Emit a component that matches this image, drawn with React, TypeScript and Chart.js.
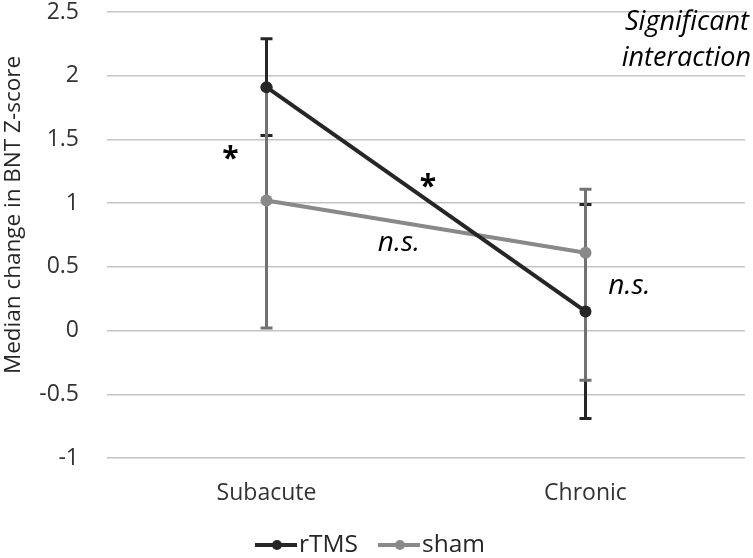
import React, { useEffect, useRef } from "react";
import { Chart, registerables } from "chart.js";

Chart.register(...registerables);

const categories = ["Subacute", "Chronic"];
const seriesNames = ["rTMS", "sham"];
const rTMSMedian = [1.91, 0.15];
const rTMSLow = [1.53, -0.69];
const rTMSHigh = [2.29, 0.99];
const shamMedian = [1.02, 0.61];
const shamLow = [0.02, -0.39];
const shamHigh = [1.91, 1.11];
const yMin = -1;
const yMax = 2.5;
const yStep = 0.5;
const yTitle = "Median change in BNT Z-score";
const noteLines = ["Significant", "interaction"];

const FONT = "'Open Sans', sans-serif";
const DARK = "#262626";
const GRAY = "#898989";
const GRAY_ERR = "#727272";
const PLOT_TOP = 12;
const PLOT_BOTTOM = 458;

const errorBarsPlugin = {
  id: "errorBars",
  afterLayout(chart: any) {
    const ca = chart.chartArea;
    const xs = chart.scales.x;
    const ys = chart.scales.y;
    ca.top = PLOT_TOP;
    ca.bottom = PLOT_BOTTOM;
    ca.height = PLOT_BOTTOM - PLOT_TOP;
    ys.top = PLOT_TOP;
    ys.bottom = PLOT_BOTTOM;
    ys.height = PLOT_BOTTOM - PLOT_TOP;
    ys.configure();
    const xh = xs.height;
    xs.top = PLOT_BOTTOM;
    xs.bottom = PLOT_BOTTOM + xh;
    xs.configure();
  },
  beforeDatasetsDraw(chart: any) {
    const ctx = chart.ctx;
    const xs = chart.scales.x;
    const ys = chart.scales.y;
    const sets = [
      { low: rTMSLow, high: rTMSHigh, color: DARK },
      { low: shamLow, high: shamHigh, color: GRAY_ERR },
    ];
    ctx.save();
    sets.forEach((s) => {
      ctx.strokeStyle = s.color;
      ctx.lineWidth = 3;
      s.low.forEach((lo, i) => {
        const x = xs.getPixelForValue(i);
        const y1 = ys.getPixelForValue(lo);
        const y2 = ys.getPixelForValue(s.high[i]);
        ctx.beginPath();
        ctx.moveTo(x, y1);
        ctx.lineTo(x, y2);
        ctx.moveTo(x - 6, y1);
        ctx.lineTo(x + 6, y1);
        ctx.moveTo(x - 6, y2);
        ctx.lineTo(x + 6, y2);
        ctx.stroke();
      });
    });
    ctx.restore();
  },
  afterDraw(chart: any) {
    const ctx = chart.ctx;
    const xs = chart.scales.x;
    const ys = chart.scales.y;
    ctx.save();
    // y title
    ctx.fillStyle = "#262626";
    ctx.font = `22.5px ${FONT}`;
    ctx.textAlign = "center";
    ctx.textBaseline = "middle";
    ctx.translate(14, 215);
    ctx.rotate(-Math.PI / 2);
    ctx.fillText(yTitle, 0, 0);
    ctx.setTransform(1, 0, 0, 1, 0, 0);

    // annotations
    ctx.fillStyle = "#000";
    ctx.textAlign = "center";
    ctx.textBaseline = "middle";
    const x0 = xs.getPixelForValue(0);
    const x1 = xs.getPixelForValue(1);
    ctx.font = `bold 30px ${FONT}`;
    ctx.fillText("*", x0 - 36, ys.getPixelForValue(1.34));
    ctx.fillText("*", 428, ys.getPixelForValue(1.12));
    ctx.font = `italic 28px ${FONT}`;
    ctx.fillText("n.s.", 399, ys.getPixelForValue(0.69));
    ctx.fillText("n.s.", x1 + 44, ys.getPixelForValue(0.35));
    ctx.textAlign = "right";
    ctx.font = `italic 27px ${FONT}`;
    ctx.fillText(noteLines[0], 749, 22);
    ctx.fillText(noteLines[1], 751, 58);

    // legend
    const colors = [DARK, GRAY];
    let lx = 255;
    const ly = 545;
    ctx.font = `24.5px ${FONT}`;
    ctx.textAlign = "left";
    ctx.textBaseline = "middle";
    seriesNames.forEach((name, i) => {
      ctx.strokeStyle = colors[i];
      ctx.fillStyle = colors[i];
      ctx.lineWidth = 4;
      ctx.beginPath();
      ctx.moveTo(lx, ly);
      ctx.lineTo(lx + 42, ly);
      ctx.stroke();
      ctx.beginPath();
      ctx.arc(lx + 22, ly, 5, 0, Math.PI * 2);
      ctx.fill();
      ctx.fillStyle = "#262626";
      ctx.fillText(name, lx + 44, ly);
      lx += 44 + ctx.measureText(name).width + 20;
    });
    ctx.restore();
  },
};

export default function App() {
  const ref = useRef<HTMLCanvasElement | null>(null);
  useEffect(() => {
    if (!ref.current) return;
    const chart = new Chart(ref.current, {
      type: "line",
      data: {
        labels: categories,
        datasets: [
          {
            label: seriesNames[0],
            data: rTMSMedian,
            borderColor: DARK,
            backgroundColor: DARK,
            borderWidth: 4,
            pointRadius: 6,
            pointBackgroundColor: DARK,
            pointBorderWidth: 0,
          },
          {
            label: seriesNames[1],
            data: shamMedian,
            borderColor: GRAY,
            backgroundColor: GRAY,
            borderWidth: 4,
            pointRadius: 6,
            pointBackgroundColor: GRAY,
            pointBorderWidth: 0,
          },
        ],
      },
      options: {
        responsive: false,
        animation: false,
        layout: { padding: { top: 12, right: 8, bottom: 29, left: 0 } },
        plugins: { legend: { display: false }, tooltip: { enabled: false } },
        scales: {
          x: {
            offset: true,
            grid: { display: false, drawTicks: false },
            border: { display: false },
            ticks: {
              font: { family: FONT, size: 23, lineHeight: 1 },
              color: "#333",
              padding: 24,
            },
          },
          y: {
            min: yMin,
            max: yMax,
            ticks: {
              stepSize: yStep,
              font: { family: FONT, size: 23, lineHeight: 1 },
              color: "#333",
              padding: 28,
              callback: (v: any) => `${Number(v)}`,
            },
            grid: { color: "#c4c4c4", lineWidth: 1.5, drawTicks: false },
            border: { display: false },
            afterFit: (s: any) => {
              s.width = 107;
            },
          },
        },
      },
      plugins: [errorBarsPlugin],
    });
    return () => chart.destroy();
  }, []);
  return (
    <div style={{ position: "absolute", left: 0, top: 0, width: 753, height: 558, background: "#fff" }}>
      <canvas ref={ref} width={753} height={558} style={{ display: "block" }} />
    </div>
  );
}
